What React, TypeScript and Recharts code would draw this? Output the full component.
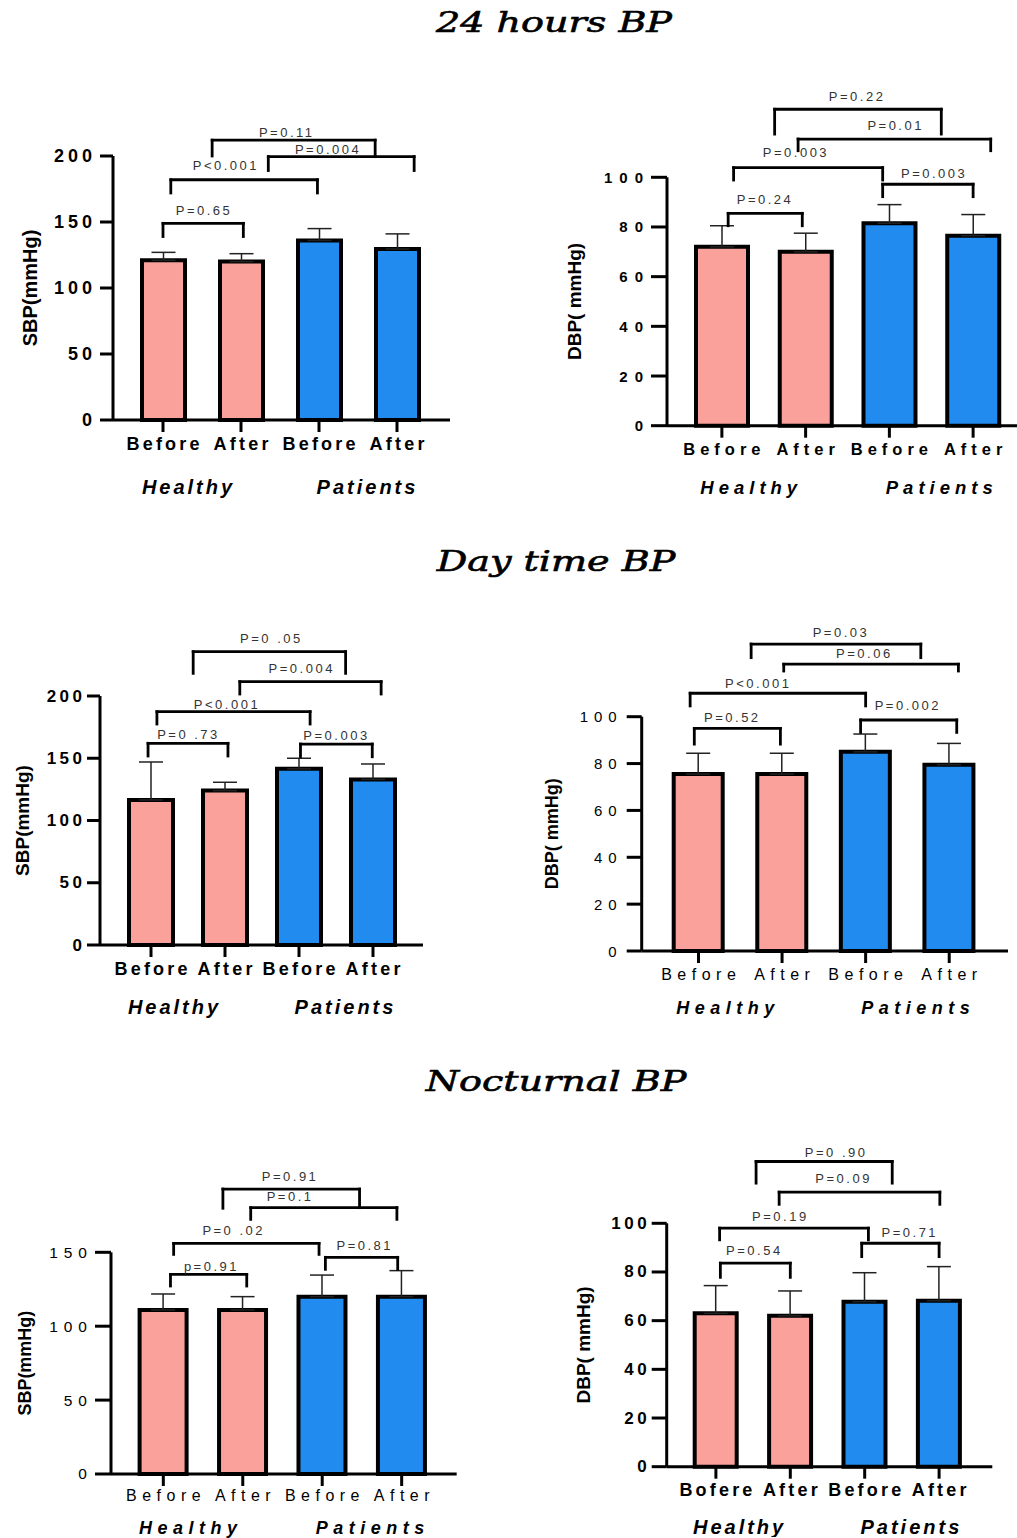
import React from "react";
import {
  BarChart,
  Bar,
  XAxis,
  YAxis,
  Cell,
  ErrorBar,
  ReferenceLine,
  ReferenceDot,
} from "recharts";

const PINK = "#F9A19A";
const BLUE = "#218BEF";
const SANS = "'Liberation Sans', Arial, sans-serif";

const categories = ["Before", "After", "Before", "After"];
const categoriesNight = ["Bofere", "After", "Before", "After"];
const groups = ["Healthy", "Patients"];

// 24 hours
const sbp24Mean = [121, 120, 136, 129.5];
const sbp24Sd = [6, 6, 9, 11.5];
const dbp24Mean = [72, 70, 81.5, 76.5];
const dbp24Sd = [8.5, 7.5, 7.5, 8.5];

// day time
const sbpDayMean = [116.5, 124, 141.5, 133];
const sbpDaySd = [30.5, 6.7, 8.5, 12.4];
const dbpDayMean = [75.5, 75.5, 85, 79.5];
const dbpDaySd = [8.9, 8.9, 7.6, 9.1];

// nocturnal
const sbpNightMean = [111, 111, 120, 120];
const sbpNightSd = [10.8, 9, 14.6, 17.6];
const dbpNightMean = [63, 62, 67.8, 68.2];
const dbpNightSd = [11.4, 10.2, 11.9, 14];

// comparison brackets: [from, to, level, left leg end, right leg end, text, text x, text y]
type Bracket = [number, number, number, number, number, string, number, number];

const sbp24Brackets: Bracket[] = [
  [0.0, 1.03, 149, 139, 139, "P=0.65", 0.51, 159],
  [0.1, 1.98, 182, 172, 172, "P<0.001", 0.79, 193],
  [1.35, 3.22, 199.5, 189, 189, "P=0.004", 2.1, 205],
  [0.63, 2.72, 212, 200, 199.5, "P=0.11", 1.57, 218],
];
const dbp24Brackets: Bracket[] = [
  [0.075, 0.96, 85.5, 80.5, 80.5, "P=0.24", 0.5, 90.9],
  [0.14, 1.92, 103.9, 98.9, 98.9, "P=0.003", 0.87, 109.9],
  [1.92, 3.0, 97.2, 92.2, 92.2, "P=0.003", 2.52, 101.6],
  [0.91, 3.21, 115.4, 110.7, 110.7, "P=0.01", 2.06, 120.8],
  [0.63, 2.62, 127.4, 117.4, 117.4, "P=0.22", 1.6, 132.7],
];
const sbpDayBrackets: Bracket[] = [
  [-0.04, 1.04, 162, 151.8, 151.8, "P=0 .73", 0.49, 169.2],
  [0.08, 2.15, 187.4, 177.5, 177.5, "P<0.001", 1.01, 193.3],
  [2.02, 2.99, 161.4, 151.2, 151.2, "P=0.003", 2.49, 168.1],
  [1.2, 3.11, 211.5, 201.6, 201.6, "P=0.004", 2.02, 221.7],
  [0.57, 2.63, 235.6, 218.2, 218.2, "P=0 .05", 1.61, 246.3],
];
const dbpDayBrackets: Bracket[] = [
  [-0.05, 0.98, 95, 88.3, 88.3, "P=0.52", 0.39, 99.7],
  [-0.1, 2.0, 110, 104.6, 104.6, "P<0.001", 0.7, 114.3],
  [1.94, 3.09, 98.6, 93.3, 93.3, "P=0.002", 2.49, 104.6],
  [1.02, 3.11, 122.4, 119.5, 119.5, "P=0.06", 1.97, 127],
  [0.63, 2.66, 131, 125.2, 125.2, "P=0.03", 1.69, 135.9],
];
const sbpNightBrackets: Bracket[] = [
  [0.09, 1.05, 135, 127.2, 127.2, "p=0.91", 0.59, 140.7],
  [0.13, 1.96, 156, 148.6, 148.6, "P=0 .02", 0.87, 164.6],
  [2.04, 2.95, 146.6, 138.5, 138.5, "P=0.81", 2.52, 154.9],
  [1.1, 2.94, 180.2, 172.3, 172.3, "P=0.1", 1.58, 188],
  [0.75, 2.47, 192.8, 179.8, 180.2, "P=0.91", 1.58, 201.2],
];
const dbpNightBrackets: Bracket[] = [
  [0.06, 1.0, 83.6, 77.8, 77.8, "P=0.54", 0.5, 88.8],
  [0.05, 2.05, 98, 93.2, 93.2, "P=0.19", 0.85, 102.8],
  [1.96, 3.0, 91.8, 86.3, 86.3, "P=0.71", 2.59, 96.3],
  [0.85, 3.01, 112.8, 107.8, 107.8, "P=0.09", 1.7, 118.2],
  [0.54, 2.37, 125.4, 116.5, 116.5, "P=0 .90", 1.6, 129.1],
];

const sbpTicks = [0, 50, 100, 150, 200];
const sbpNightTicks = [0, 50, 100, 150];
const dbpTicks = [0, 20, 40, 60, 80, 100];

interface TextStyle {
  size: number;
  bold: boolean;
  spacing: number;
}

interface Layout {
  left: number;
  top: number;
  plotLeft: number;
  plotTop: number;
  plotRight: number;
  plotBottom: number;
  padL: number;
  padR: number;
  barSize: number;
  axisH: number;
  yLabelX: number;
  yLabelSize: number;
  yTickSize: number;
  yTickGap: number;
  yTick: TextStyle;
  xTick: TextStyle;
  xTickDy: number;
  group: TextStyle;
  groupDy: number;
}

interface PanelProps {
  layout: Layout;
  labels: string[];
  means: number[];
  sds: number[];
  ticks: number[];
  yLabel: string;
  brackets: Bracket[];
}

function Panel({ layout: p, labels, means, sds, ticks, yLabel, brackets }: PanelProps) {
  const data = labels.map((name, i) => ({
    idx: i,
    name,
    mean: means[i],
    err: [0, sds[i]],
  }));
  const width = p.plotRight - p.left + 8;
  const height = p.plotBottom - p.top + p.axisH;
  const band = (p.plotRight - p.plotLeft - p.padL - p.padR) / labels.length;
  const yMid = (p.plotTop + p.plotBottom) / 2 - p.top;
  const groupShift = [-15, 8];

  const renderXTick = (props: any) => {
    const { x, y, payload } = props;
    const i = Number(payload.value);
    const xs = p.xTick;
    const gs = p.group;
    return (
      <g>
        <text
          x={x + xs.spacing / 2}
          y={y + p.xTickDy}
          textAnchor="middle"
          dominantBaseline="central"
          fontFamily={SANS}
          fontSize={xs.size}
          fontWeight={xs.bold ? "bold" : "normal"}
          letterSpacing={xs.spacing}
          fill="#000"
        >
          {labels[i]}
        </text>
        {i % 2 === 0 && (
          <text
            x={x + band / 2 + groupShift[i / 2] + gs.spacing / 2}
            y={y + p.groupDy}
            textAnchor="middle"
            dominantBaseline="central"
            fontFamily={SANS}
            fontSize={gs.size}
            fontWeight="bold"
            fontStyle="italic"
            letterSpacing={gs.spacing}
            fill="#000"
          >
            {groups[i / 2]}
          </text>
        )}
      </g>
    );
  };

  const renderYTick = (props: any) => {
    const { x, y, payload } = props;
    const ys = p.yTick;
    return (
      <text
        x={x + ys.spacing}
        y={y}
        textAnchor="end"
        dominantBaseline="central"
        fontFamily={SANS}
        fontSize={ys.size}
        fontWeight={ys.bold ? "bold" : "normal"}
        letterSpacing={ys.spacing}
        fill="#000"
      >
        {payload.value}
      </text>
    );
  };

  const renderYLabel = () => {
    const cx = p.yLabelX - p.left;
    return (
      <text
        x={cx}
        y={yMid}
        transform={`rotate(-90, ${cx}, ${yMid})`}
        textAnchor="middle"
        dominantBaseline="central"
        fontFamily={SANS}
        fontSize={p.yLabelSize}
        fontWeight="bold"
        fill="#000"
      >
        {yLabel}
      </text>
    );
  };

  const line = { stroke: "#000", strokeWidth: 2.8, strokeLinecap: "square" as const };

  return (
    <div style={{ position: "absolute", left: p.left, top: p.top }}>
      <BarChart
        width={width}
        height={height}
        data={data}
        margin={{ top: p.plotTop - p.top, right: 8, left: 0, bottom: 0 }}
      >
        <XAxis
          dataKey="idx"
          type="category"
          interval={0}
          padding={{ left: p.padL, right: p.padR }}
          height={p.axisH}
          axisLine={{ stroke: "#000", strokeWidth: 3 }}
          tickLine={{ stroke: "#000", strokeWidth: 3 }}
          tickSize={12}
          tickMargin={0}
          tick={renderXTick}
        />
        <XAxis
          xAxisId="n"
          dataKey="idx"
          type="number"
          domain={[-0.5, 3.5]}
          padding={{ left: p.padL, right: p.padR }}
          allowDataOverflow
          hide
        />
        <YAxis
          domain={[0, ticks[ticks.length - 1]]}
          ticks={ticks}
          interval={0}
          width={p.plotLeft - p.left}
          axisLine={{ stroke: "#000", strokeWidth: 3 }}
          tickLine={{ stroke: "#000", strokeWidth: 3 }}
          tickSize={p.yTickSize}
          tickMargin={p.yTickGap - p.yTickSize}
          tick={renderYTick}
          label={renderYLabel}
        />
        <Bar
          dataKey="mean"
          barSize={p.barSize}
          stroke="#000"
          strokeWidth={4}
          isAnimationActive={false}
        >
          {data.map((d) => (
            <Cell key={d.idx} fill={d.idx < 2 ? PINK : BLUE} />
          ))}
          <ErrorBar
            dataKey="err"
            direction="y"
            width={12}
            stroke="#222"
            strokeWidth={1.5}
            isAnimationActive={false}
          />
        </Bar>
        {brackets.map(([from, to, level], k) => (
          <ReferenceLine
            key={`h${k}`}
            xAxisId="n"
            ifOverflow="visible"
            segment={[{ x: from, y: level }, { x: to, y: level }]}
            {...line}
          />
        ))}
        {brackets.map(([from, , level, l1], k) => (
          <ReferenceLine
            key={`l${k}`}
            xAxisId="n"
            ifOverflow="visible"
            segment={[{ x: from, y: level }, { x: from, y: l1 }]}
            {...line}
          />
        ))}
        {brackets.map(([, to, level, , l2], k) => (
          <ReferenceLine
            key={`r${k}`}
            xAxisId="n"
            ifOverflow="visible"
            segment={[{ x: to, y: level }, { x: to, y: l2 }]}
            {...line}
          />
        ))}
        {brackets.map(([, , , , , text, tx, ty], k) => (
          <ReferenceDot
            key={`t${k}`}
            xAxisId="n"
            x={tx}
            y={ty}
            r={0}
            fill="none"
            stroke="none"
            ifOverflow="visible"
            label={(lp: any) => {
              const vb = lp.viewBox || {};
              const cx = (vb.x ?? 0) + (vb.width ?? 0) / 2;
              const cy = (vb.y ?? 0) + (vb.height ?? 0) / 2;
              return (
                <text
                  x={cx + 1.25}
                  y={cy}
                  textAnchor="middle"
                  dominantBaseline="central"
                  fontFamily={SANS}
                  fontSize={13}
                  letterSpacing={2.5}
                  fill="#333"
                >
                  {text}
                </text>
              );
            }}
          />
        ))}
      </BarChart>
    </div>
  );
}

const bold18: TextStyle = { size: 18, bold: true, spacing: 3.2 };
const group20: TextStyle = { size: 20, bold: true, spacing: 3 };

const layout24Sbp: Layout = {
  left: 0, top: 60, plotLeft: 113, plotTop: 156, plotRight: 450, plotBottom: 420,
  padL: 11, padR: 14, barSize: 43, axisH: 90,
  yLabelX: 30, yLabelSize: 20, yTickSize: 13, yTickGap: 21,
  yTick: { size: 18, bold: true, spacing: 4 },
  xTick: bold18, xTickDy: 12, group: group20, groupDy: 54.7,
};
const layout24Dbp: Layout = {
  left: 530, top: 80, plotLeft: 667, plotTop: 177.3, plotRight: 1017, plotBottom: 425.7,
  padL: 13, padR: 2, barSize: 52, axisH: 90,
  yLabelX: 575, yLabelSize: 19, yTickSize: 16, yTickGap: 24,
  yTick: { size: 15, bold: true, spacing: 7 },
  xTick: { size: 16.5, bold: true, spacing: 5 }, xTickDy: 11.3,
  group: { size: 18.5, bold: true, spacing: 5 }, groupDy: 50.3,
};
const layoutDaySbp: Layout = {
  left: 0, top: 600, plotLeft: 100, plotTop: 696, plotRight: 423, plotBottom: 945,
  padL: 14, padR: 13, barSize: 44, axisH: 90,
  yLabelX: 22, yLabelSize: 19, yTickSize: 13, yTickGap: 18,
  yTick: { size: 17, bold: true, spacing: 3.5 },
  xTick: bold18, xTickDy: 12, group: group20, groupDy: 49.7,
};
const layoutDayDbp: Layout = {
  left: 530, top: 600, plotLeft: 641.7, plotTop: 716.7, plotRight: 1008, plotBottom: 951,
  padL: 15, padR: 17, barSize: 49, axisH: 90,
  yLabelX: 552, yLabelSize: 18, yTickSize: 15, yTickGap: 25,
  yTick: { size: 15, bold: false, spacing: 6 },
  xTick: { size: 16, bold: false, spacing: 5.5 }, xTickDy: 11,
  group: { size: 18, bold: true, spacing: 5.5 }, groupDy: 45,
};
const layoutNightSbp: Layout = {
  left: 0, top: 1120, plotLeft: 111, plotTop: 1252.3, plotRight: 456.7, plotBottom: 1474,
  padL: 12.6, padR: 15.3, barSize: 47, axisH: 64,
  yLabelX: 25, yLabelSize: 18, yTickSize: 16, yTickGap: 24,
  yTick: { size: 15.5, bold: false, spacing: 6 },
  xTick: { size: 16, bold: false, spacing: 5.5 }, xTickDy: 10,
  group: { size: 18, bold: true, spacing: 5.5 }, groupDy: 42,
};
const layoutNightDbp: Layout = {
  left: 530, top: 1120, plotLeft: 666.7, plotTop: 1223.3, plotRight: 992.3, plotBottom: 1466.7,
  padL: 12, padR: 16, barSize: 42, axisH: 70,
  yLabelX: 584, yLabelSize: 19, yTickSize: 15, yTickGap: 20,
  yTick: { size: 17, bold: true, spacing: 3.5 },
  xTick: bold18, xTickDy: 11.3, group: group20, groupDy: 48,
};

function Title({ text, cx, top }: { text: string; cx: number; top: number }) {
  return (
    <div
      style={{
        position: "absolute",
        left: cx,
        top,
        transform: "translateX(-50%) scaleX(1.36)",
        fontFamily: "'DejaVu Serif', serif",
        fontStyle: "italic",
        fontWeight: "normal",
        fontSize: 28,
        lineHeight: "32px",
        whiteSpace: "nowrap",
        color: "#000",
        WebkitTextStroke: "0.6px #000",
      }}
    >
      {text}
    </div>
  );
}

export default function App() {
  return (
    <div
      style={{
        position: "absolute",
        left: 0,
        top: 0,
        width: 1017,
        height: 1538,
        overflow: "hidden",
        background: "#fff",
      }}
    >
      <Panel layout={layout24Sbp} labels={categories} means={sbp24Mean} sds={sbp24Sd}
        ticks={sbpTicks} yLabel="SBP(mmHg)" brackets={sbp24Brackets} />
      <Panel layout={layout24Dbp} labels={categories} means={dbp24Mean} sds={dbp24Sd}
        ticks={dbpTicks} yLabel="DBP( mmHg)" brackets={dbp24Brackets} />
      <Panel layout={layoutDaySbp} labels={categories} means={sbpDayMean} sds={sbpDaySd}
        ticks={sbpTicks} yLabel="SBP(mmHg)" brackets={sbpDayBrackets} />
      <Panel layout={layoutDayDbp} labels={categories} means={dbpDayMean} sds={dbpDaySd}
        ticks={dbpTicks} yLabel="DBP( mmHg)" brackets={dbpDayBrackets} />
      <Panel layout={layoutNightSbp} labels={categories} means={sbpNightMean} sds={sbpNightSd}
        ticks={sbpNightTicks} yLabel="SBP(mmHg)" brackets={sbpNightBrackets} />
      <Panel layout={layoutNightDbp} labels={categoriesNight} means={dbpNightMean} sds={dbpNightSd}
        ticks={dbpTicks} yLabel="DBP( mmHg)" brackets={dbpNightBrackets} />
      <Title text="24 hours BP" cx={554} top={7} />
      <Title text="Day time BP" cx={556} top={546} />
      <Title text="Nocturnal BP" cx={556} top={1066} />
    </div>
  );
}
